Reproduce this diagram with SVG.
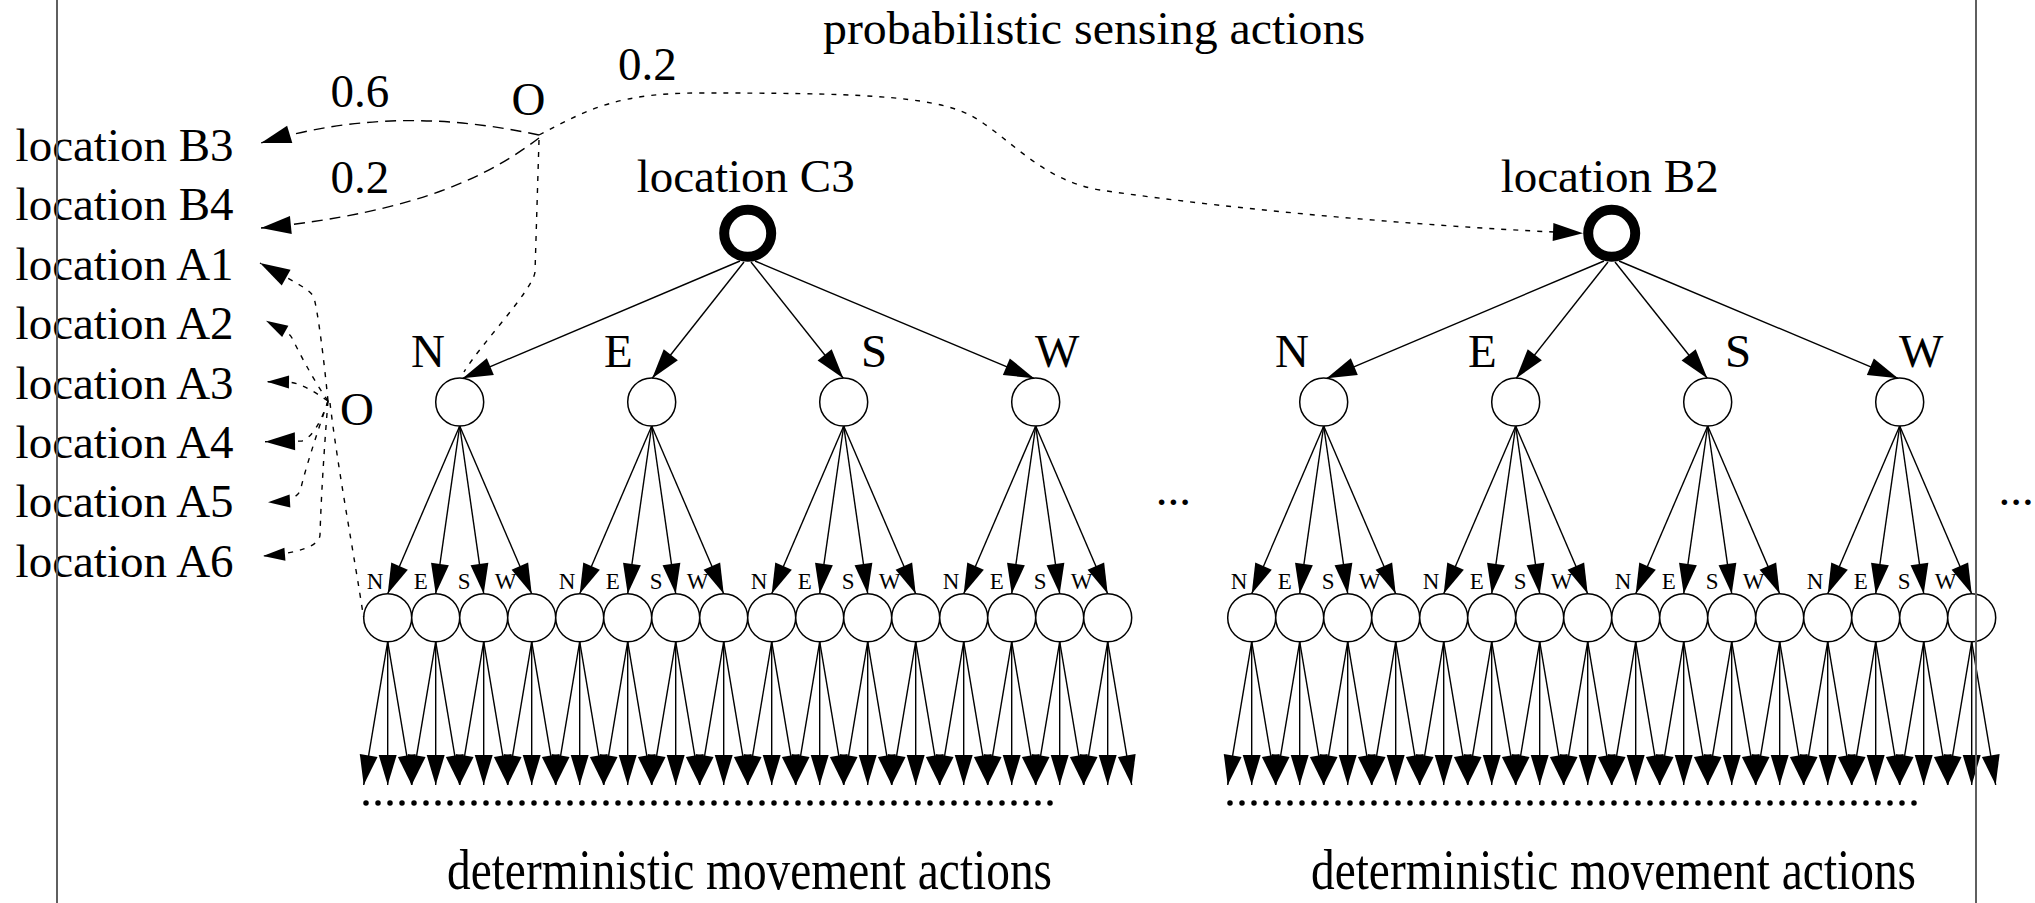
<svg xmlns="http://www.w3.org/2000/svg" width="2035" height="903" viewBox="0 0 2035 903">
<style>
text{font-family:"Liberation Serif","Times New Roman",serif;fill:#000}
.big{font-size:47px}
.bottom{font-size:58px}
.small{font-size:23px}
.node{fill:#fff;stroke:#000;stroke-width:1.5}
.root{fill:#fff;stroke:#000;stroke-width:10}
.edge{stroke:#000;stroke-width:1.4;fill:none;marker-end:url(#ah)}
.dl{stroke:#000;stroke-width:1.4;fill:none;stroke-dasharray:11 7}
.ds{stroke:#000;stroke-width:1.4;fill:none;stroke-dasharray:5 7}
.big-head{marker-end:url(#ah)}
.small-head{marker-end:url(#ahs)}
.frame{stroke:#5f5f5f;stroke-width:2}
.dots{stroke:#000;stroke-width:5.5;stroke-linecap:round;stroke-dasharray:0 12;fill:none}
</style>
<defs>
<marker id="ah" markerUnits="userSpaceOnUse" markerWidth="31" markerHeight="18" viewBox="0 0 31 18" refX="30" refY="9" orient="auto" overflow="visible"><path d="M0,0 L30,9 L0,18 Z" fill="#000"/></marker>
<marker id="ahs" markerUnits="userSpaceOnUse" markerWidth="23" markerHeight="13" viewBox="0 0 23 13" refX="22" refY="6.5" orient="auto" overflow="visible"><path d="M0,0 L22,6.5 L0,13 Z" fill="#000"/></marker>
</defs>
<rect width="2035" height="903" fill="#fff"/>

<text class="big" x="823" y="43.5" textLength="542" lengthAdjust="spacingAndGlyphs">probabilistic sensing actions</text>

<!-- left location list -->
<g id="loc-B3"><text class="big" x="15.6" y="161">location B3</text></g>
<g id="loc-B4"><text class="big" x="15.6" y="220.4">location B4</text></g>
<g id="loc-A1"><text class="big" x="15.6" y="279.8">location A1</text></g>
<g id="loc-A2"><text class="big" x="15.6" y="339.2">location A2</text></g>
<g id="loc-A3"><text class="big" x="15.6" y="398.6">location A3</text></g>
<g id="loc-A4"><text class="big" x="15.6" y="458">location A4</text></g>
<g id="loc-A5"><text class="big" x="15.6" y="517.4">location A5</text></g>
<g id="loc-A6"><text class="big" x="15.6" y="576.8">location A6</text></g>

<g id="obs-top"><text class="big" x="511.5" y="114.5">O</text></g>
<g id="obs-low"><text class="big" x="340" y="425">O</text></g>

<!-- left tree nodes -->
<g transform="translate(387.7,0)">
<g id="c3-root"><circle class="root" cx="360" cy="233.3" r="23.5"/><text class="big" x="358" y="191.7" text-anchor="middle">location C3</text></g>
<g id="c3-N"><circle class="node" cx="72" cy="402" r="24"/></g>
<g id="c3-E"><circle class="node" cx="264" cy="402" r="24"/></g>
<g id="c3-S"><circle class="node" cx="456" cy="402" r="24"/></g>
<g id="c3-W"><circle class="node" cx="648" cy="402" r="24"/></g>
<g id="c3-NN"><circle class="node" cx="0" cy="617.7" r="24"/></g>
<g id="c3-NE"><circle class="node" cx="48" cy="617.7" r="24"/></g>
<g id="c3-NS"><circle class="node" cx="96" cy="617.7" r="24"/></g>
<g id="c3-NW"><circle class="node" cx="144" cy="617.7" r="24"/></g>
<g id="c3-EN"><circle class="node" cx="192" cy="617.7" r="24"/></g>
<g id="c3-EE"><circle class="node" cx="240" cy="617.7" r="24"/></g>
<g id="c3-ES"><circle class="node" cx="288" cy="617.7" r="24"/></g>
<g id="c3-EW"><circle class="node" cx="336" cy="617.7" r="24"/></g>
<g id="c3-SN"><circle class="node" cx="384" cy="617.7" r="24"/></g>
<g id="c3-SE"><circle class="node" cx="432" cy="617.7" r="24"/></g>
<g id="c3-SS"><circle class="node" cx="480" cy="617.7" r="24"/></g>
<g id="c3-SW"><circle class="node" cx="528" cy="617.7" r="24"/></g>
<g id="c3-WN"><circle class="node" cx="576" cy="617.7" r="24"/></g>
<g id="c3-WE"><circle class="node" cx="624" cy="617.7" r="24"/></g>
<g id="c3-WS"><circle class="node" cx="672" cy="617.7" r="24"/></g>
<g id="c3-WW"><circle class="node" cx="720" cy="617.7" r="24"/></g>
</g>

<!-- right tree nodes -->
<g transform="translate(1251.7,0)">
<g id="b2-root"><circle class="root" cx="360" cy="233.3" r="23.5"/><text class="big" x="358" y="191.7" text-anchor="middle">location B2</text></g>
<g id="b2-N"><circle class="node" cx="72" cy="402" r="24"/></g>
<g id="b2-E"><circle class="node" cx="264" cy="402" r="24"/></g>
<g id="b2-S"><circle class="node" cx="456" cy="402" r="24"/></g>
<g id="b2-W"><circle class="node" cx="648" cy="402" r="24"/></g>
<g id="b2-NN"><circle class="node" cx="0" cy="617.7" r="24"/></g>
<g id="b2-NE"><circle class="node" cx="48" cy="617.7" r="24"/></g>
<g id="b2-NS"><circle class="node" cx="96" cy="617.7" r="24"/></g>
<g id="b2-NW"><circle class="node" cx="144" cy="617.7" r="24"/></g>
<g id="b2-EN"><circle class="node" cx="192" cy="617.7" r="24"/></g>
<g id="b2-EE"><circle class="node" cx="240" cy="617.7" r="24"/></g>
<g id="b2-ES"><circle class="node" cx="288" cy="617.7" r="24"/></g>
<g id="b2-EW"><circle class="node" cx="336" cy="617.7" r="24"/></g>
<g id="b2-SN"><circle class="node" cx="384" cy="617.7" r="24"/></g>
<g id="b2-SE"><circle class="node" cx="432" cy="617.7" r="24"/></g>
<g id="b2-SS"><circle class="node" cx="480" cy="617.7" r="24"/></g>
<g id="b2-SW"><circle class="node" cx="528" cy="617.7" r="24"/></g>
<g id="b2-WN"><circle class="node" cx="576" cy="617.7" r="24"/></g>
<g id="b2-WE"><circle class="node" cx="624" cy="617.7" r="24"/></g>
<g id="b2-WS"><circle class="node" cx="672" cy="617.7" r="24"/></g>
<g id="b2-WW"><circle class="node" cx="720" cy="617.7" r="24"/></g>
</g>

<!-- connectors -->
<g id="connectors">
<g transform="translate(387.7,0)">
<line class="edge" x1="352.3" y1="261" x2="75" y2="378.3"/>
<line class="edge" x1="356.3" y1="262" x2="264.5" y2="378.3"/>
<line class="edge" x1="363.3" y1="262" x2="455.6" y2="378.3"/>
<line class="edge" x1="367.3" y1="261" x2="646.3" y2="378.3"/>
<line class="edge" x1="72" y1="426" x2="0" y2="593.7"/>
<line class="edge" x1="72" y1="426" x2="48" y2="593.7"/>
<line class="edge" x1="72" y1="426" x2="96" y2="593.7"/>
<line class="edge" x1="72" y1="426" x2="144" y2="593.7"/>
<line class="edge" x1="264" y1="426" x2="192" y2="593.7"/>
<line class="edge" x1="264" y1="426" x2="240" y2="593.7"/>
<line class="edge" x1="264" y1="426" x2="288" y2="593.7"/>
<line class="edge" x1="264" y1="426" x2="336" y2="593.7"/>
<line class="edge" x1="456" y1="426" x2="384" y2="593.7"/>
<line class="edge" x1="456" y1="426" x2="432" y2="593.7"/>
<line class="edge" x1="456" y1="426" x2="480" y2="593.7"/>
<line class="edge" x1="456" y1="426" x2="528" y2="593.7"/>
<line class="edge" x1="648" y1="426" x2="576" y2="593.7"/>
<line class="edge" x1="648" y1="426" x2="624" y2="593.7"/>
<line class="edge" x1="648" y1="426" x2="672" y2="593.7"/>
<line class="edge" x1="648" y1="426" x2="720" y2="593.7"/>
<line class="edge" x1="0" y1="641.7" x2="-24" y2="785"/><line class="edge" x1="0" y1="641.7" x2="0" y2="785"/><line class="edge" x1="0" y1="641.7" x2="24" y2="785"/>
<line class="edge" x1="48" y1="641.7" x2="24" y2="785"/><line class="edge" x1="48" y1="641.7" x2="48" y2="785"/><line class="edge" x1="48" y1="641.7" x2="72" y2="785"/>
<line class="edge" x1="96" y1="641.7" x2="72" y2="785"/><line class="edge" x1="96" y1="641.7" x2="96" y2="785"/><line class="edge" x1="96" y1="641.7" x2="120" y2="785"/>
<line class="edge" x1="144" y1="641.7" x2="120" y2="785"/><line class="edge" x1="144" y1="641.7" x2="144" y2="785"/><line class="edge" x1="144" y1="641.7" x2="168" y2="785"/>
<line class="edge" x1="192" y1="641.7" x2="168" y2="785"/><line class="edge" x1="192" y1="641.7" x2="192" y2="785"/><line class="edge" x1="192" y1="641.7" x2="216" y2="785"/>
<line class="edge" x1="240" y1="641.7" x2="216" y2="785"/><line class="edge" x1="240" y1="641.7" x2="240" y2="785"/><line class="edge" x1="240" y1="641.7" x2="264" y2="785"/>
<line class="edge" x1="288" y1="641.7" x2="264" y2="785"/><line class="edge" x1="288" y1="641.7" x2="288" y2="785"/><line class="edge" x1="288" y1="641.7" x2="312" y2="785"/>
<line class="edge" x1="336" y1="641.7" x2="312" y2="785"/><line class="edge" x1="336" y1="641.7" x2="336" y2="785"/><line class="edge" x1="336" y1="641.7" x2="360" y2="785"/>
<line class="edge" x1="384" y1="641.7" x2="360" y2="785"/><line class="edge" x1="384" y1="641.7" x2="384" y2="785"/><line class="edge" x1="384" y1="641.7" x2="408" y2="785"/>
<line class="edge" x1="432" y1="641.7" x2="408" y2="785"/><line class="edge" x1="432" y1="641.7" x2="432" y2="785"/><line class="edge" x1="432" y1="641.7" x2="456" y2="785"/>
<line class="edge" x1="480" y1="641.7" x2="456" y2="785"/><line class="edge" x1="480" y1="641.7" x2="480" y2="785"/><line class="edge" x1="480" y1="641.7" x2="504" y2="785"/>
<line class="edge" x1="528" y1="641.7" x2="504" y2="785"/><line class="edge" x1="528" y1="641.7" x2="528" y2="785"/><line class="edge" x1="528" y1="641.7" x2="552" y2="785"/>
<line class="edge" x1="576" y1="641.7" x2="552" y2="785"/><line class="edge" x1="576" y1="641.7" x2="576" y2="785"/><line class="edge" x1="576" y1="641.7" x2="600" y2="785"/>
<line class="edge" x1="624" y1="641.7" x2="600" y2="785"/><line class="edge" x1="624" y1="641.7" x2="624" y2="785"/><line class="edge" x1="624" y1="641.7" x2="648" y2="785"/>
<line class="edge" x1="672" y1="641.7" x2="648" y2="785"/><line class="edge" x1="672" y1="641.7" x2="672" y2="785"/><line class="edge" x1="672" y1="641.7" x2="696" y2="785"/>
<line class="edge" x1="720" y1="641.7" x2="696" y2="785"/><line class="edge" x1="720" y1="641.7" x2="720" y2="785"/><line class="edge" x1="720" y1="641.7" x2="744" y2="785"/>
</g>
<g transform="translate(1251.7,0)">
<line class="edge" x1="352.3" y1="261" x2="75" y2="378.3"/>
<line class="edge" x1="356.3" y1="262" x2="264.5" y2="378.3"/>
<line class="edge" x1="363.3" y1="262" x2="455.6" y2="378.3"/>
<line class="edge" x1="367.3" y1="261" x2="646.3" y2="378.3"/>
<line class="edge" x1="72" y1="426" x2="0" y2="593.7"/>
<line class="edge" x1="72" y1="426" x2="48" y2="593.7"/>
<line class="edge" x1="72" y1="426" x2="96" y2="593.7"/>
<line class="edge" x1="72" y1="426" x2="144" y2="593.7"/>
<line class="edge" x1="264" y1="426" x2="192" y2="593.7"/>
<line class="edge" x1="264" y1="426" x2="240" y2="593.7"/>
<line class="edge" x1="264" y1="426" x2="288" y2="593.7"/>
<line class="edge" x1="264" y1="426" x2="336" y2="593.7"/>
<line class="edge" x1="456" y1="426" x2="384" y2="593.7"/>
<line class="edge" x1="456" y1="426" x2="432" y2="593.7"/>
<line class="edge" x1="456" y1="426" x2="480" y2="593.7"/>
<line class="edge" x1="456" y1="426" x2="528" y2="593.7"/>
<line class="edge" x1="648" y1="426" x2="576" y2="593.7"/>
<line class="edge" x1="648" y1="426" x2="624" y2="593.7"/>
<line class="edge" x1="648" y1="426" x2="672" y2="593.7"/>
<line class="edge" x1="648" y1="426" x2="720" y2="593.7"/>
<line class="edge" x1="0" y1="641.7" x2="-24" y2="785"/><line class="edge" x1="0" y1="641.7" x2="0" y2="785"/><line class="edge" x1="0" y1="641.7" x2="24" y2="785"/>
<line class="edge" x1="48" y1="641.7" x2="24" y2="785"/><line class="edge" x1="48" y1="641.7" x2="48" y2="785"/><line class="edge" x1="48" y1="641.7" x2="72" y2="785"/>
<line class="edge" x1="96" y1="641.7" x2="72" y2="785"/><line class="edge" x1="96" y1="641.7" x2="96" y2="785"/><line class="edge" x1="96" y1="641.7" x2="120" y2="785"/>
<line class="edge" x1="144" y1="641.7" x2="120" y2="785"/><line class="edge" x1="144" y1="641.7" x2="144" y2="785"/><line class="edge" x1="144" y1="641.7" x2="168" y2="785"/>
<line class="edge" x1="192" y1="641.7" x2="168" y2="785"/><line class="edge" x1="192" y1="641.7" x2="192" y2="785"/><line class="edge" x1="192" y1="641.7" x2="216" y2="785"/>
<line class="edge" x1="240" y1="641.7" x2="216" y2="785"/><line class="edge" x1="240" y1="641.7" x2="240" y2="785"/><line class="edge" x1="240" y1="641.7" x2="264" y2="785"/>
<line class="edge" x1="288" y1="641.7" x2="264" y2="785"/><line class="edge" x1="288" y1="641.7" x2="288" y2="785"/><line class="edge" x1="288" y1="641.7" x2="312" y2="785"/>
<line class="edge" x1="336" y1="641.7" x2="312" y2="785"/><line class="edge" x1="336" y1="641.7" x2="336" y2="785"/><line class="edge" x1="336" y1="641.7" x2="360" y2="785"/>
<line class="edge" x1="384" y1="641.7" x2="360" y2="785"/><line class="edge" x1="384" y1="641.7" x2="384" y2="785"/><line class="edge" x1="384" y1="641.7" x2="408" y2="785"/>
<line class="edge" x1="432" y1="641.7" x2="408" y2="785"/><line class="edge" x1="432" y1="641.7" x2="432" y2="785"/><line class="edge" x1="432" y1="641.7" x2="456" y2="785"/>
<line class="edge" x1="480" y1="641.7" x2="456" y2="785"/><line class="edge" x1="480" y1="641.7" x2="480" y2="785"/><line class="edge" x1="480" y1="641.7" x2="504" y2="785"/>
<line class="edge" x1="528" y1="641.7" x2="504" y2="785"/><line class="edge" x1="528" y1="641.7" x2="528" y2="785"/><line class="edge" x1="528" y1="641.7" x2="552" y2="785"/>
<line class="edge" x1="576" y1="641.7" x2="552" y2="785"/><line class="edge" x1="576" y1="641.7" x2="576" y2="785"/><line class="edge" x1="576" y1="641.7" x2="600" y2="785"/>
<line class="edge" x1="624" y1="641.7" x2="600" y2="785"/><line class="edge" x1="624" y1="641.7" x2="624" y2="785"/><line class="edge" x1="624" y1="641.7" x2="648" y2="785"/>
<line class="edge" x1="672" y1="641.7" x2="648" y2="785"/><line class="edge" x1="672" y1="641.7" x2="672" y2="785"/><line class="edge" x1="672" y1="641.7" x2="696" y2="785"/>
<line class="edge" x1="720" y1="641.7" x2="696" y2="785"/><line class="edge" x1="720" y1="641.7" x2="720" y2="785"/><line class="edge" x1="720" y1="641.7" x2="744" y2="785"/>
</g>
<!-- sensing outcome curves -->
<path class="dl big-head" d="M539,135 C450,116 360,113 261,143"/>
<path class="dl big-head" d="M539,138 C490,175 420,212 261,228"/>
<path class="ds" d="M539,140 L535,272 C533,290 480,345 464,372"/>
<path class="ds big-head" d="M539,135 C590,108 620,93 700,93 C850,93 930,95 970,115 C1010,137 1040,180 1100,190 C1250,212 1450,228 1583,233.3"/>
<path class="ds big-head" d="M328,401 C324,360 318,312 314,298 C311,289 292,281 260,263"/>
<path class="ds small-head" d="M328,401 C312,378 298,350 292,338 C288,331 281,329 266,320.7"/>
<path class="ds small-head" d="M328,401 C312,390 300,383 288,382 L267,381.7"/>
<path class="ds big-head" d="M328,401 C322,420 312,438 302,441 L265,441.7"/>
<path class="ds small-head" d="M328,401 C318,430 305,470 301,488 C299,497 290,501 268,502.3"/>
<path class="ds small-head" d="M328,401 C324,450 321,500 320,535 C319,546 300,553 263,556"/>
<path class="ds" d="M330,403 C338,470 355,560 363.5,617"/>
</g>

<!-- edge labels -->
<g id="labels">
<text class="big" x="330.4" y="106.7">0.6</text>
<text class="big" x="330.4" y="193.3">0.2</text>
<text class="big" x="618" y="80">0.2</text>
<g transform="translate(387.7,0)">
<text class="big" x="23.3" y="366.7">N</text><text class="big" x="216.3" y="366.7">E</text><text class="big" x="473.3" y="366.7">S</text><text class="big" x="647.3" y="366.7">W</text>
<text class="small" x="-21" y="589.3">N</text><text class="small" x="26" y="589.3">E</text><text class="small" x="70" y="589.3">S</text><text class="small" x="107" y="589.3">W</text>
<text class="small" x="171" y="589.3">N</text><text class="small" x="218" y="589.3">E</text><text class="small" x="262" y="589.3">S</text><text class="small" x="299" y="589.3">W</text>
<text class="small" x="363" y="589.3">N</text><text class="small" x="410" y="589.3">E</text><text class="small" x="454" y="589.3">S</text><text class="small" x="491" y="589.3">W</text>
<text class="small" x="555" y="589.3">N</text><text class="small" x="602" y="589.3">E</text><text class="small" x="646" y="589.3">S</text><text class="small" x="683" y="589.3">W</text>
<path class="dots" d="M-21.7,803 H666"/>
<text class="bottom" x="59.3" y="889" textLength="605" lengthAdjust="spacingAndGlyphs">deterministic movement actions</text>
</g>
<g transform="translate(1251.7,0)">
<text class="big" x="23.3" y="366.7">N</text><text class="big" x="216.3" y="366.7">E</text><text class="big" x="473.3" y="366.7">S</text><text class="big" x="647.3" y="366.7">W</text>
<text class="small" x="-21" y="589.3">N</text><text class="small" x="26" y="589.3">E</text><text class="small" x="70" y="589.3">S</text><text class="small" x="107" y="589.3">W</text>
<text class="small" x="171" y="589.3">N</text><text class="small" x="218" y="589.3">E</text><text class="small" x="262" y="589.3">S</text><text class="small" x="299" y="589.3">W</text>
<text class="small" x="363" y="589.3">N</text><text class="small" x="410" y="589.3">E</text><text class="small" x="454" y="589.3">S</text><text class="small" x="491" y="589.3">W</text>
<text class="small" x="555" y="589.3">N</text><text class="small" x="602" y="589.3">E</text><text class="small" x="646" y="589.3">S</text><text class="small" x="683" y="589.3">W</text>
<path class="dots" d="M-21.7,803 H666"/>
<text class="bottom" x="59.3" y="889" textLength="605" lengthAdjust="spacingAndGlyphs">deterministic movement actions</text>
</g>
<text class="big" x="1155.8" y="505.2">...</text>
<text class="big" x="1998.4" y="505.2">...</text>
</g>

<line class="frame" x1="57" y1="0" x2="57" y2="903"/>
<line class="frame" x1="1976" y1="0" x2="1976" y2="903"/>
</svg>
